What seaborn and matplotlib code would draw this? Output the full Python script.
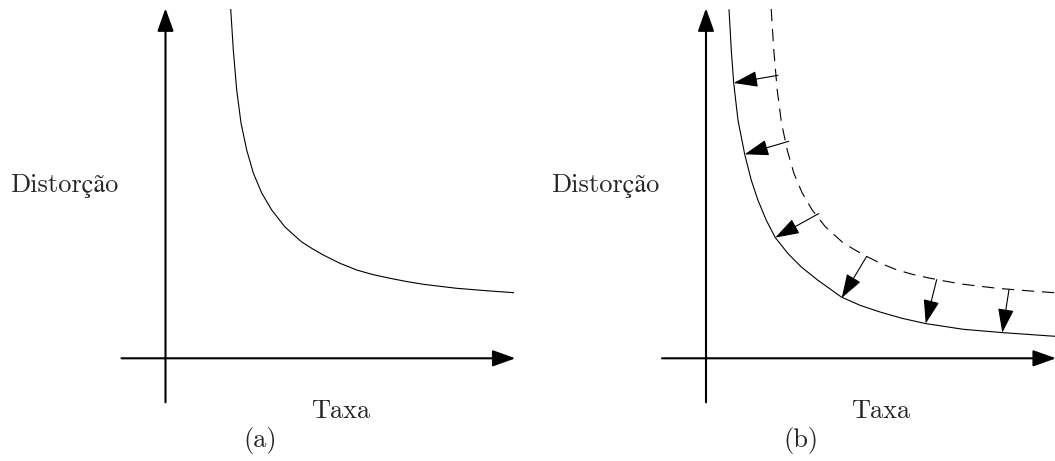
import matplotlib
matplotlib.use("Agg")
import matplotlib.pyplot as plt
import seaborn as sns

# Curva taxa-distorção original (painel a, tracejada no painel b)
taxa_original = [65.2, 67.8, 71.2, 75.5, 81.2, 87.8, 96.2, 106.2, 119.5, 136.2,
                 147.0, 157.8, 174.0, 191.2, 207.0, 224.5, 241.0, 257.8, 291.2,
                 324.5, 348.5]
dist_original = [349.3, 308.3, 268.3, 235.3, 208.3, 185.3, 165.3, 148.3, 131.3, 116.3,
                 109.5, 103.3, 95.2, 88.3, 83.8, 80.0, 76.8, 74.0, 70.0,
                 67.3, 65.6]

# Curva melhorada (painel b, contínua)
taxa_melhorada = [23.0, 25.3, 27.7, 32.0, 38.7, 45.3, 52.0, 60.3, 69.3, 82.0,
                  95.3, 112.0, 135.3, 154.0, 174.0, 196.0, 219.7, 257.3, 296.3, 349.0]
dist_melhorada = [349.0, 308.0, 275.3, 238.0, 204.0, 178.0, 158.0, 138.0, 120.7, 104.7,
                  91.3, 78.0, 61.3, 53.0, 46.3, 40.0, 34.7, 29.0, 25.7, 22.0]

# Setas: de um ponto da curva original até a curva melhorada
seta_taxa_ini = [72.0, 82.7, 112.7, 160.7, 230.7, 303.0]
seta_dist_ini = [283.0, 217.0, 144.7, 102.0, 78.7, 68.7]
seta_taxa_fim = [27.7, 38.7, 69.3, 135.7, 219.7, 296.3]
seta_dist_fim = [275.3, 204.0, 120.7, 60.3, 34.7, 25.7]

rotulo_y = "Distorção"
rotulo_x = "Taxa"
legendas = ["(a)", "(b)"]

sns.set_style("white")
plt.rcParams["font.family"] = ["cmr10", "STIXGeneral", "DejaVu Serif"]
plt.rcParams["mathtext.fontset"] = "cm"
plt.rcParams["axes.formatter.use_mathtext"] = True

fig = plt.figure(figsize=(10.55, 4.61), dpi=100)
ax_a = fig.add_axes([0, 0, 530 / 1055, 1])
ax_b = fig.add_axes([530 / 1055, 0, 525 / 1055, 1])
ax_a.set_xlim(-165.5, 364.5)
ax_b.set_xlim(-176.0, 349.0)

eixo_min, eixo_max = -44.0, 350.0
fs = 19

for ax, legenda in zip([ax_a, ax_b], legendas):
    ax.set_ylim(-102.7, 358.3)
    ax.axis("off")
    # eixos com setas
    eixo_props = dict(arrowstyle="-|>,head_length=1.4,head_width=0.5",
                      lw=1.5, color="black", shrinkA=0, shrinkB=0,
                      mutation_scale=10)
    ax.annotate("", xy=(eixo_max, 0), xytext=(eixo_min, 0),
                arrowprops=eixo_props, annotation_clip=False)
    ax.annotate("", xy=(0, eixo_max), xytext=(0, eixo_min),
                arrowprops=eixo_props, annotation_clip=False)
    ax.text(-101, 166.6, rotulo_y, ha="center", va="baseline", fontsize=fs)
    ax.text(175, -60, rotulo_x, ha="center", va="baseline", fontsize=fs)
    ax.text(95, -88.4, legenda, ha="center", va="baseline", fontsize=fs)

linha = dict(color="black", lw=0.8, sort=False, estimator=None,
             solid_joinstyle="round", solid_capstyle="butt")

sns.lineplot(x=taxa_original, y=dist_original, ax=ax_a, **linha)

sns.lineplot(x=taxa_original, y=dist_original, ax=ax_b, color="black",
             lw=0.8, sort=False, estimator=None, linestyle=(0, (11, 7)))
sns.lineplot(x=taxa_melhorada, y=dist_melhorada, ax=ax_b, **linha)

for x0, y0, x1, y1 in zip(seta_taxa_ini, seta_dist_ini, seta_taxa_fim, seta_dist_fim):
    ax_b.annotate("", xy=(x1, y1), xytext=(x0, y0),
                  arrowprops=dict(arrowstyle="-|>,head_length=1.5,head_width=0.5",
                                  lw=0.8, color="black", shrinkA=0, shrinkB=0,
                                  mutation_scale=10),
                  annotation_clip=False)

for ax in (ax_a, ax_b):
    leg = ax.get_legend()
    if leg is not None:
        leg.remove()

fig.savefig("out.png", dpi=100)
